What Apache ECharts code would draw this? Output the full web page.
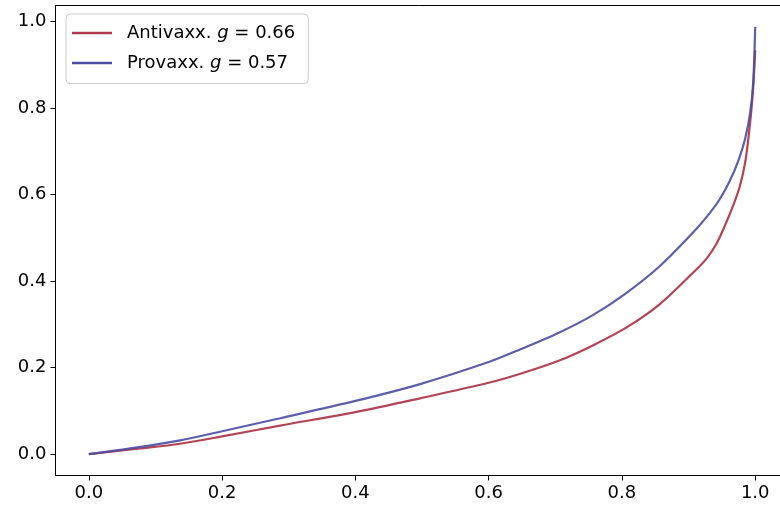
<!DOCTYPE html>
<html>
<head>
<meta charset="utf-8">
<script src="https://cdn.jsdelivr.net/npm/echarts@6/dist/echarts.min.js"></script>
<style>
html,body{margin:0;padding:0;background:#fff;}
#chart{width:780px;height:512px;}
</style>
</head>
<body>
<div id="chart"></div>
<script>
// Series names and Gini values
const seriesNames = ['Antivaxx.', 'Provaxx.'];
const giniValues = ['0.66', '0.57'];
const seriesColors = ['#b03a4b', '#4a4ea2'];

// Antivaxx. Lorenz curve
const antiX = [0, 0.07, 0.137, 0.2, 0.287, 0.4, 0.497, 0.6, 0.65, 0.707, 0.757, 0.807, 0.857, 0.907, 0.927, 0.942, 0.955, 0.967, 0.977, 0.985, 0.9905, 0.9945, 0.9975, 1.0];
const antiY = [0, 0.012, 0.024, 0.041, 0.066, 0.097, 0.129, 0.165, 0.187, 0.217, 0.252, 0.293, 0.347, 0.42, 0.452, 0.487, 0.53, 0.575, 0.62, 0.675, 0.74, 0.80, 0.86, 0.934];

// Provaxx. Lorenz curve
const proX = [0, 0.07, 0.137, 0.2, 0.287, 0.4, 0.497, 0.6, 0.647, 0.707, 0.757, 0.807, 0.857, 0.907, 0.932, 0.947, 0.962, 0.975, 0.985, 0.9925, 0.997, 1.0];
const proY = [0, 0.015, 0.032, 0.053, 0.083, 0.123, 0.162, 0.213, 0.242, 0.282, 0.322, 0.373, 0.435, 0.513, 0.558, 0.59, 0.632, 0.68, 0.73, 0.79, 0.86, 0.988];

// Tick labels
const xTicks = [0, 0.2, 0.4, 0.6, 0.8, 1.0];
const yTicks = [0, 0.2, 0.4, 0.6, 0.8, 1.0];

const pair = (xs, ys) => xs.map((x, i) => [x, ys[i]]);
const FONT = 'DejaVu Sans';
const FS = 18;

const chart = echarts.init(document.getElementById('chart'), null, {renderer: 'canvas'});
chart.setOption({
  animation: false,
  backgroundColor: '#fff',
  grid: {
    left: 55.5, right: -1, top: 5.5, bottom: 36.5,
    show: true, borderColor: '#000', borderWidth: 1,
    outerBoundsMode: 'none', containLabel: false
  },
  xAxis: {
    type: 'value', min: -0.05, max: 1.0387,
    splitLine: {show: false},
    axisLine: {show: true, onZero: false, lineStyle: {color: '#000', width: 1}},
    axisTick: {show: true, length: 5, lineStyle: {color: '#000', width: 1}, customValues: xTicks},
    axisLabel: {
      customValues: xTicks, margin: 9, color: '#000', fontFamily: FONT, fontSize: FS,
      formatter: v => v.toFixed(1)
    }
  },
  yAxis: {
    type: 'value', min: -0.0494, max: 1.0374,
    splitLine: {show: false},
    axisLine: {show: true, onZero: false, lineStyle: {color: '#000', width: 1}},
    axisTick: {show: true, length: 5, lineStyle: {color: '#000', width: 1}, customValues: yTicks},
    axisLabel: {
      customValues: yTicks, margin: 9, color: '#000', fontFamily: FONT, fontSize: FS,
      formatter: v => v.toFixed(1)
    }
  },
  legend: {
    orient: 'vertical', left: 66, top: 14,
    padding: [8.5, 13, 10, 6],
    itemGap: 9,
    itemWidth: 40, itemHeight: 2.5,
    icon: 'rect',
    borderColor: '#cccccc', borderWidth: 1, borderRadius: 4,
    backgroundColor: 'rgba(255,255,255,0.85)',
    data: seriesNames,
    formatter: name => {
      const i = seriesNames.indexOf(name);
      return '{n|' + name + ' }{i|g}{n| = ' + giniValues[i] + '}';
    },
    textStyle: {
      color: '#000', fontFamily: FONT, fontSize: FS, lineHeight: 21, padding: [0, 0, 0, 10],
      rich: {
        n: {fontFamily: FONT, fontSize: FS, color: '#000', lineHeight: 21},
        i: {fontFamily: FONT, fontSize: FS, fontStyle: 'italic', color: '#000', lineHeight: 21}
      }
    }
  },
  series: [
    {
      name: seriesNames[0], type: 'line', showSymbol: false, smooth: 0.3,
      data: pair(antiX, antiY),
      lineStyle: {color: seriesColors[0], width: 2.2, opacity: 0.95},
      itemStyle: {color: seriesColors[0]}
    },
    {
      name: seriesNames[1], type: 'line', showSymbol: false, smooth: 0.3,
      data: pair(proX, proY),
      lineStyle: {color: seriesColors[1], width: 2.2, opacity: 0.9},
      itemStyle: {color: seriesColors[1]}
    }
  ]
});
</script>
</body>
</html>
